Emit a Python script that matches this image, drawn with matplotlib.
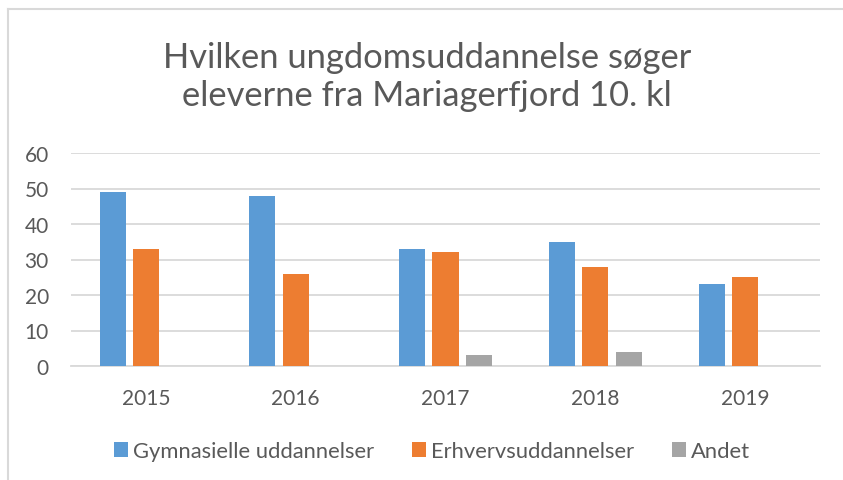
import numpy as np
import matplotlib.pyplot as plt
from matplotlib.lines import Line2D

years = ["2015", "2016", "2017", "2018", "2019"]
gym = [49, 48, 33, 35, 23]
erhverv = [33, 26, 32, 28, 25]
andet = [0, 0, 3, 4, 0]
series = ["Gymnasielle uddannelser", "Erhvervsuddannelser", "Andet"]
colors = ["#5B9BD5", "#ED7D31", "#A5A5A5"]
title = "Hvilken ungdomsuddannelse søger\neleverne fra Mariagerfjord 10. kl"

plt.rcParams['font.family'] = ['Lato', 'DejaVu Sans']
txt = "#595959"
grid = "#D9D9D9"

fig = plt.figure(figsize=(8.43, 4.81), dpi=100)
# chart border: only left and top edges are visible in the crop
bx, by = 7.5 / 843, 1 - 10 / 481
fig.add_artist(Line2D([bx, bx], [0, by], transform=fig.transFigure, color=grid, lw=1.5))
fig.add_artist(Line2D([bx, 1], [by, by], transform=fig.transFigure, color=grid, lw=1.5))

ax = fig.add_axes([71 / 843, (481 - 367) / 481, (820 - 71) / 843, (367 - 154) / 481])
x = np.arange(len(years))
w = 0.174
step = 0.222
for i, (vals, name, c) in enumerate(zip([gym, erhverv, andet], series, colors)):
    ax.bar(x + (i - 1) * step, vals, width=w, color=c, label=name, zorder=3)

ax.set_xlim(-0.5, len(years) - 0.5)
ax.set_ylim(0, 60)
ax.set_yticks(range(0, 61, 10))
ax.set_xticks(x)
ax.set_xticklabels(years)
ax.yaxis.grid(True, color=grid, linewidth=1.3, zorder=0)
for s in ["top", "right", "left"]:
    ax.spines[s].set_visible(False)
ax.spines["bottom"].set_color(grid)
ax.spines["bottom"].set_linewidth(1.3)
ax.tick_params(axis="both", length=0, labelsize=15, colors=txt)
ax.tick_params(axis="y", pad=16)
ax.tick_params(axis="x", pad=16)

fig.text(427 / 843, 1 - 77 / 481, title, ha="center", va="center",
         fontsize=24.8, color=txt, linespacing=1.25)

fig.legend(loc="center", bbox_to_anchor=(432 / 843, 1 - 452 / 481), ncol=3,
           frameon=False, fontsize=15.8, labelcolor=txt, handlelength=0.64,
           handleheight=0.64, handletextpad=0.25, columnspacing=1.7)

fig.savefig("out.png", dpi=100)
